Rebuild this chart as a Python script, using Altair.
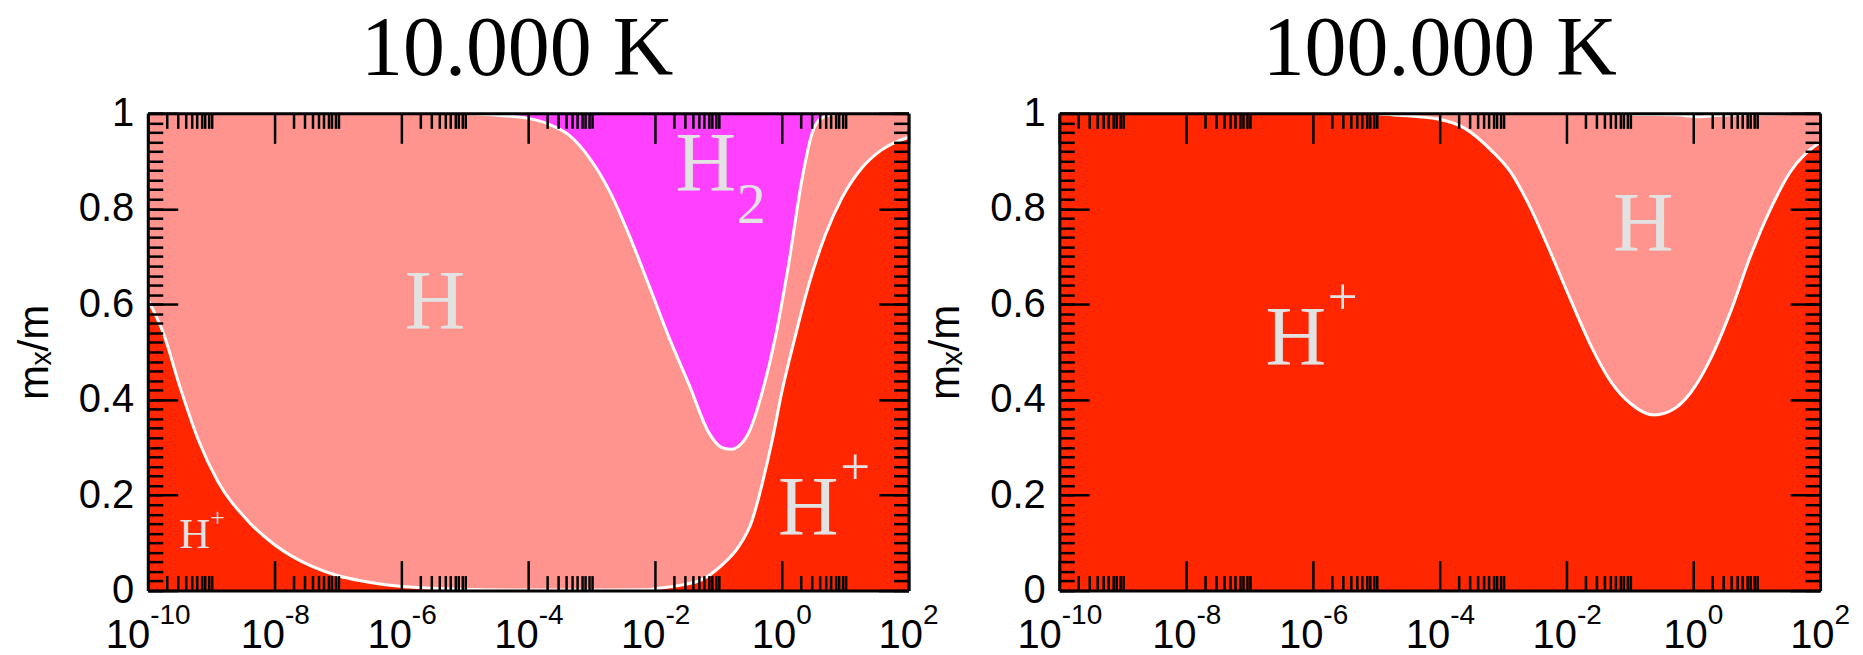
import altair as alt
import pandas as pd

# ---------------- data (x given as log10 of the abscissa, y as m_x/m) ----------------
# 10.000 K : H+ fraction (upper edge of the red region)
L_HPLUS_LOGX = [-10.0, -9.75, -9.5, -9.2, -8.9, -8.42, -8.0, -7.4, -7.0, -6.62, -6.02, -5.1, -4.0,
                -3.0, -2.09, -1.99, -1.57, -1.26, -0.94, -0.68, -0.47, -0.31, -0.15, 0.0, 0.21,
                0.42, 0.69, 0.95, 1.26, 1.57, 2.0]
L_HPLUS_FRAC = [0.61, 0.538, 0.43, 0.315, 0.23, 0.146, 0.096, 0.05, 0.031, 0.02, 0.009, 0.003, 0.001,
                0.001, 0.002, 0.004, 0.012, 0.023, 0.054, 0.092, 0.146, 0.223, 0.315, 0.415, 0.531,
                0.638, 0.746, 0.823, 0.885, 0.923, 0.95]
# 10.000 K : H+ + H fraction (lower edge of the H2 region)
L_H2_LOGX = [-10.0, -6.0, -5.0, -4.5, -4.02, -3.67, -3.35, -3.04, -2.72, -2.41, -2.09, -1.78, -1.46,
             -1.15, -0.95, -0.81, -0.66, -0.52, -0.31, -0.10, 0.11, 0.32, 0.47, 0.58, 0.74, 1.0, 2.0]
L_H2_LOWER = [1.0, 1.0, 0.999, 0.996, 0.99, 0.977, 0.954, 0.908, 0.838, 0.746, 0.638, 0.531, 0.431,
              0.331, 0.30, 0.296, 0.305, 0.331, 0.415, 0.531, 0.685, 0.862, 0.954, 0.985, 0.996, 1.0, 1.0]

# 100.000 K
R_HPLUS_LOGX = [-10.0, -5.5, -5.03, -4.66, -4.03, -3.61, -3.19, -2.88, -2.56, -2.25, -1.93, -1.62,
                -1.30, -0.99, -0.62, -0.30, -0.04, 0.27, 0.59, 0.90, 1.22, 1.53, 2.0]
R_HPLUS_FRAC = [1.0, 1.0, 0.999, 0.996, 0.988, 0.969, 0.923, 0.877, 0.80, 0.708, 0.608, 0.515,
                0.438, 0.392, 0.368, 0.381, 0.415, 0.485, 0.585, 0.70, 0.80, 0.877, 0.94]
R_H2_LOGX = [-1.5, -1.0, -0.3, 0.1, 0.4, 1.0, 1.6]
R_H2_LOWER = [1.0, 0.998, 0.997, 0.993, 0.996, 0.998, 1.0]

# in-plot species labels
L_LABEL_TEXT = ["H", "H", "2", "H", "+", "H", "+"]
L_LABEL_LOGX = [-5.47, -1.2, -0.48, 0.42, 1.16, -9.26, -8.9]
L_LABEL_FRAC = [0.60, 0.89, 0.806, 0.169, 0.256, 0.116, 0.152]
L_LABEL_SIZE = [84, 84, 58, 84, 53, 43, 26]

R_LABEL_TEXT = ["H", "+", "H"]
R_LABEL_LOGX = [-6.27, -5.53, -0.79]
R_LABEL_FRAC = [0.526, 0.614, 0.763]
R_LABEL_SIZE = [84, 53, 84]

PANEL_TITLES = ["10.000 K", "100.000 K"]
Y_TITLE = "mₓ/m"

# ticks
X_MAJOR_EXP = [-10, -8, -6, -4, -2, 0, 2]
X_MAJOR = [10.0 ** e for e in X_MAJOR_EXP]
X_MINOR = [k * 10.0 ** e for e in X_MAJOR_EXP[:-1] for k in range(2, 11)]
Y_MAJOR = [0, 0.2, 0.4, 0.6, 0.8, 1.0]
Y_MINOR = [round(i * 0.02, 2) for i in range(51)]

# ---------------- style ----------------
C_HPLUS = "#FF2600"
C_H = "#FF948E"
C_H2 = "#FF40FF"
C_TXT = "#E2E2E2"
W, H = 762, 478
SANS = "Liberation Sans"
SERIF = "Liberation Serif"

xs = alt.Scale(type="log", domain=[1e-10, 1e2], nice=False)
ys = alt.Scale(domain=[0, 1], nice=False, zero=False)


def ax(**kw):
    base = dict(grid=False, zindex=1, labels=False, domain=False, ticks=False, tickSize=0,
                title=None, labelFlush=False, labelOverlap=False)
    base.update(kw)
    return alt.Axis(**base)


def tick_ax(orient, offset, values, size, domain):
    return ax(orient=orient, offset=offset, values=values, ticks=True, tickSize=size,
              tickWidth=2.5, tickColor="black", domain=domain, domainWidth=3,
              domainColor="black")


def frame(lx, v):
    return pd.DataFrame({"n": [10.0 ** e for e in lx], "v": v})


def panel(title, title_dx, hp_lx, hp_v, h2_lx, h2_v, hp_line_from, h2_line_from,
          lab_t, lab_lx, lab_v, lab_s):
    hp = frame(hp_lx, hp_v)
    h2 = frame(h2_lx, h2_v)
    hp_line = hp[hp["n"] >= 10.0 ** hp_line_from]
    h2_line = h2[h2["n"] >= 10.0 ** h2_line_from]
    labs = frame(lab_lx, lab_v)
    labs["t"] = lab_t
    labs["s"] = lab_s

    lbl_offset = alt.ExprRef(expr="datum.value < 1e-9 ? 2 : (datum.value < 0.5 ? 10 : 14)")
    x_base = ax(orient="bottom", labels=True, values=X_MAJOR, labelExpr="'10'",
                labelFont=SANS, labelFontSize=40, labelColor="black", labelAlign="right",
                labelBaseline="top", labelPadding=25, labelOffset=lbl_offset)
    x_exp = ax(orient="bottom", labels=True, values=X_MAJOR,
               labelExpr="'' + round(log(datum.value) / LN10)",
               labelFont=SANS, labelFontSize=28, labelColor="black", labelAlign="left",
               labelBaseline="top", labelPadding=11, labelOffset=lbl_offset)
    y_base = ax(orient="left", labels=True, values=Y_MAJOR, format="~g", labelFont=SANS,
                labelFontSize=40, labelColor="black", labelPadding=14, title=Y_TITLE,
                titleFont=SANS, titleFontSize=42, titleFontWeight="normal",
                titleColor="black", titlePadding=22)

    def X(axis):
        return alt.X("n:Q", scale=xs, axis=axis)

    def Y(axis):
        return alt.Y("v:Q", scale=ys, axis=axis)

    red = alt.Chart(hp).mark_area(color=C_HPLUS, interpolate="monotone", clip=True).encode(
        x=X(x_base), y=Y(y_base))
    mag = alt.Chart(h2).mark_area(color=C_H2, interpolate="monotone", clip=True).encode(
        x=X(None), y=Y(None), y2=alt.datum(1))
    line1 = alt.Chart(hp_line).mark_line(color="white", strokeWidth=3, interpolate="monotone",
                                         clip=True).encode(x=X(None), y=Y(None))
    line2 = alt.Chart(h2_line).mark_line(color="white", strokeWidth=3, interpolate="monotone",
                                         clip=True).encode(x=X(None), y=Y(None))
    text = alt.Chart(labs).mark_text(font=SERIF, color=C_TXT, align="center",
                                     baseline="middle").encode(
        x=X(None), y=Y(None), text="t:N", size=alt.Size("s:Q", scale=None, legend=None))

    def ghost(xa, ya):
        return alt.Chart(hp).mark_point(opacity=0).encode(x=X(xa), y=Y(ya))

    layers = [
        mag, red, line1, line2, text,
        ghost(x_exp, None),
        ghost(tick_ax("top", -H, X_MAJOR, 30, True), tick_ax("right", -W, Y_MAJOR, 30, True)),
        ghost(tick_ax("top", -H, X_MINOR, 15, False), tick_ax("right", -W, Y_MINOR, 15, False)),
        ghost(tick_ax("bottom", -H, X_MAJOR, 30, True), tick_ax("left", -W, Y_MAJOR, 30, True)),
        ghost(tick_ax("bottom", -H, X_MINOR, 15, False), tick_ax("left", -W, Y_MINOR, 15, False)),
    ]
    return alt.layer(*layers).resolve_axis(x="independent", y="independent").properties(
        width=W, height=H,
        title=alt.TitleParams(title, font=SERIF, fontSize=84, fontWeight="normal",
                              color="black", anchor="middle", frame="group", offset=0,
                              dx=title_dx))


left = panel(PANEL_TITLES[0], -11, L_HPLUS_LOGX, L_HPLUS_FRAC, L_H2_LOGX, L_H2_LOWER, -10, -5.0,
             L_LABEL_TEXT, L_LABEL_LOGX, L_LABEL_FRAC, L_LABEL_SIZE)
right = panel(PANEL_TITLES[1], 0, R_HPLUS_LOGX, R_HPLUS_FRAC, R_H2_LOGX, R_H2_LOWER, -5.5, -1.5,
              R_LABEL_TEXT, R_LABEL_LOGX, R_LABEL_FRAC, R_LABEL_SIZE)

chart = alt.hconcat(left, right, spacing=151, bounds="flush").properties(
    padding={"left": 5, "top": 0, "right": 5, "bottom": 0},
    background="white",
).configure_view(stroke=None, fill=C_H)

chart.save("out.html", embed_options={"renderer": "svg", "actions": False})
